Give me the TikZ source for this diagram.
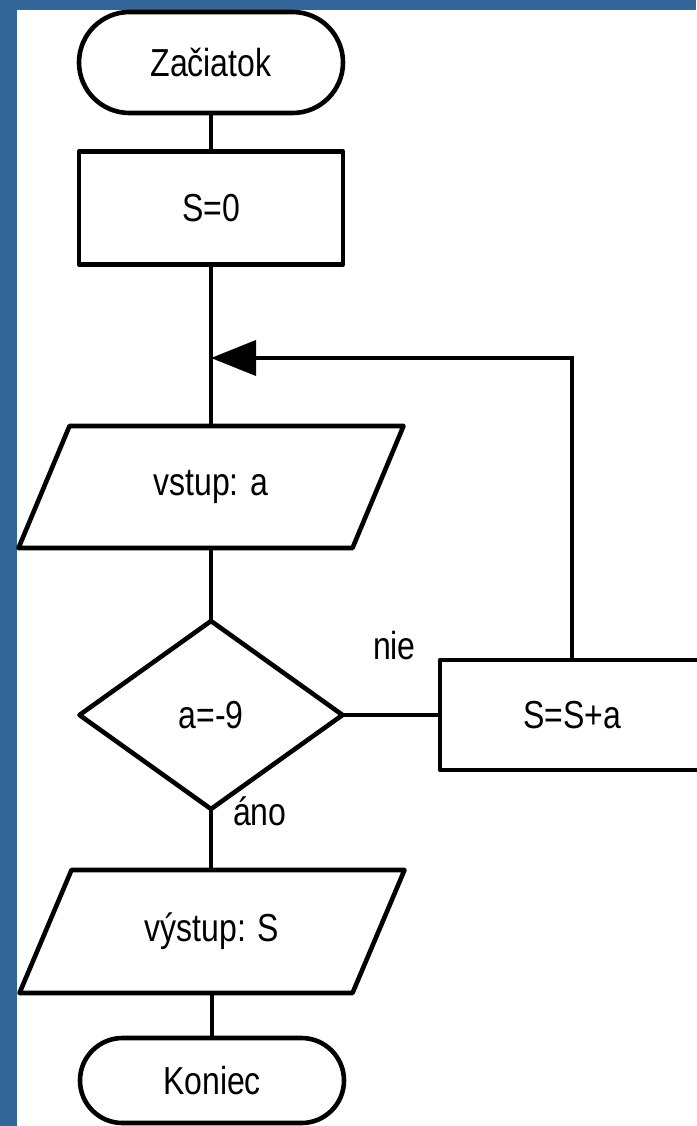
\documentclass[tikz,border=0pt]{standalone}
\usepackage{fontspec}
\setmainfont{Liberation Sans}
\usetikzlibrary{shapes.misc,shapes.geometric,arrows.meta}
\definecolor{frameblue}{RGB}{52,103,153}
\newcommand\tallsans[1]{\scalebox{1}[1.22]{#1}}
\tikzset{
  shapeline/.style={draw=black,line width=4.6pt,line join=round},
  lbl/.style={font=\fontsize{32}{36}\selectfont,inner sep=0pt,outer sep=0pt},
  termbox/.style={shapeline,lbl,rounded rectangle,minimum width=264pt},
  procbox/.style={shapeline,lbl,rectangle,minimum width=264pt},
  iobox/.style={lbl,rectangle,minimum width=334pt,minimum height=122pt},
  decbox/.style={shapeline,lbl,diamond,minimum width=263pt,minimum height=188pt},
  conn/.style={line width=4pt},
  backarrow/.style={line width=4pt,-{Triangle[length=45pt,width=35pt]}},
}
\begin{document}
\begin{tikzpicture}[x=1pt,y=-1pt]
\useasboundingbox (0,0) rectangle (696,1126);
\fill[frameblue] (0,0) rectangle (696,1126);
\fill[white] (17,10) rectangle (696,1126);

\node[termbox,minimum height=101pt] (start) at (211,62.5) {\tallsans{Začiatok}};
\node[procbox,minimum height=113pt] (s0) at (211,208) {\tallsans{S=0}};
\node[iobox] (in) at (211,487) {\tallsans{vstup: a}};
\draw[shapeline] ([xshift=25.5pt]in.north west) -- ([xshift=25.5pt]in.north east)
  -- ([xshift=-25.5pt]in.south east) -- ([xshift=-25.5pt]in.south west) -- cycle;
\node[decbox] (dec) at (211,715) {\tallsans{a=-9}};
\node[procbox,minimum height=110pt] (add) at (572,715) {\tallsans{S=S+a}};
\node[iobox,minimum height=123pt,minimum width=333pt] (out) at (212,931.5) {\tallsans{výstup: S}};
\draw[shapeline] ([xshift=26pt]out.north west) -- ([xshift=26pt]out.north east)
  -- ([xshift=-26pt]out.south east) -- ([xshift=-26pt]out.south west) -- cycle;
\node[termbox,minimum height=85pt] (end) at (212,1080.5) {\tallsans{Koniec}};

\coordinate (join) at (211,358);

\draw[conn] (start.south) -- (s0.north);
\draw[conn] (s0.south) -- (in.north);
\draw[conn] (in.south) -- (dec.north);
\draw[conn] (dec.east) -- (add.west);
\draw[backarrow] (add.north) |- (join);
\draw[conn] (dec.south) -- (dec.south |- out.north);
\draw[conn] (out.south) -- (out.south |- end.north);

\node[lbl,anchor=base west] (nie) at (373,659) {\tallsans{nie}};
\node[lbl,anchor=base west] (ano) at (233,825) {\tallsans{áno}};
\end{tikzpicture}
\end{document}
